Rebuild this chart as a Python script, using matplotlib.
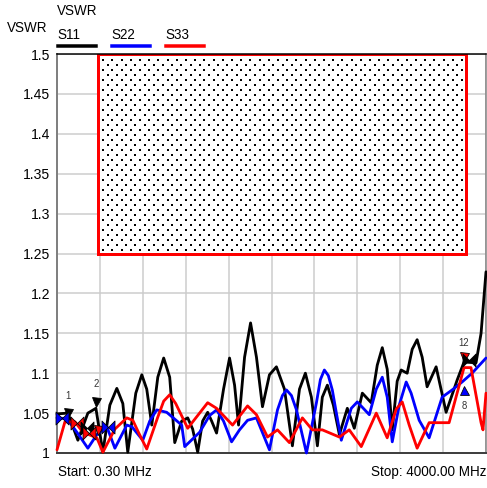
import matplotlib
matplotlib.use("Agg")
from matplotlib import pyplot as plt
from matplotlib.patches import Rectangle
from matplotlib.lines import Line2D
from matplotlib.path import Path
import numpy as np

plt.rcParams['font.family'] = ['Liberation Sans', 'DejaVu Sans']

# --- данные (МГц, КСВН) ---
f_start, f_stop = 0.3, 4000.0

s11_f = [0.3, 102, 195, 288, 363, 428, 493, 558, 614, 660,
         735, 791, 837, 884, 940, 995, 1051, 1098, 1163, 1219,
         1265, 1312, 1358, 1405, 1442, 1488, 1553, 1609, 1656, 1693,
         1749, 1805, 1860, 1916, 1981, 2046, 2121, 2195, 2261, 2316,
         2372, 2428, 2474, 2521, 2577, 2633, 2707, 2772, 2847, 2930,
         2986, 3033, 3079, 3126, 3172, 3209, 3265, 3312, 3358, 3405,
         3451, 3535, 3628, 3730, 3795, 3907, 3954, 4000]
s11_v = [1.049, 1.050, 1.016, 1.050, 1.056, 1.001, 1.060, 1.081, 1.062, 1.001,
         1.075, 1.098, 1.080, 1.035, 1.095, 1.119, 1.095, 1.013, 1.040, 1.044,
         1.030, 1.001, 1.040, 1.051, 1.040, 1.025, 1.080, 1.119, 1.085, 1.035,
         1.120, 1.163, 1.120, 1.058, 1.098, 1.108, 1.080, 1.009, 1.080, 1.100,
         1.070, 1.009, 1.070, 1.085, 1.060, 1.023, 1.056, 1.031, 1.075, 1.063,
         1.110, 1.132, 1.105, 1.029, 1.090, 1.104, 1.100, 1.130, 1.142, 1.120,
         1.083, 1.108, 1.051, 1.091, 1.114, 1.113, 1.150, 1.227]

s22_f = [0.3, 93, 186, 288, 372, 465, 540, 651, 698, 800,
         865, 930, 1023, 1163, 1191, 1330, 1423, 1488, 1553, 1628,
         1702, 1777, 1860, 1981, 2056, 2102, 2140, 2186, 2233, 2326,
         2419, 2456, 2493, 2530, 2567, 2605, 2651, 2744, 2800, 2912,
         2977, 3033, 3079, 3126, 3191, 3256, 3302, 3377, 3470, 3591,
         3684, 3777, 3870, 4000]
s22_v = [1.044, 1.043, 1.026, 1.006, 1.023, 1.033, 1.006, 1.035, 1.033, 1.016,
         1.040, 1.054, 1.051, 1.035, 1.008, 1.026, 1.047, 1.054, 1.040, 1.014,
         1.029, 1.041, 1.044, 1.004, 1.054, 1.072, 1.079, 1.072, 1.054, 1.000,
         1.063, 1.092, 1.104, 1.097, 1.079, 1.050, 1.016, 1.056, 1.064, 1.048,
         1.080, 1.095, 1.070, 1.014, 1.060, 1.089, 1.075, 1.041, 1.019, 1.070,
         1.079, 1.089, 1.100, 1.119]

s33_f = [0.3, 74, 168, 242, 372, 428, 540, 651, 707, 763,
         837, 940, 995, 1051, 1107, 1219, 1405, 1488, 1637, 1777,
         1860, 1963, 2056, 2167, 2288, 2381, 2474, 2633, 2725, 2837,
         2977, 3079, 3163, 3219, 3284, 3358, 3470, 3656, 3795, 3860,
         3954, 3972, 4000]
s33_v = [1.004, 1.039, 1.039, 1.026, 1.019, 1.001, 1.030, 1.044, 1.041, 1.025,
         1.005, 1.045, 1.065, 1.073, 1.062, 1.031, 1.063, 1.056, 1.035, 1.059,
         1.048, 1.020, 1.029, 1.013, 1.044, 1.029, 1.029, 1.020, 1.029, 1.008,
         1.050, 1.019, 1.055, 1.064, 1.035, 1.006, 1.038, 1.038, 1.107, 1.107,
         1.038, 1.029, 1.075]

# маска (предел)
mask_f = [380, 3810]
mask_v = [1.25, 1.5]

y_ticks = [1, 1.05, 1.1, 1.15, 1.2, 1.25, 1.3, 1.35, 1.4, 1.45, 1.5]
y_labels = ["1", "1.05", "1.1", "1.15", "1.2", "1.25", "1.3", "1.35", "1.4", "1.45", "1.5"]

# маркеры
down_f = [102, 363, 381, 3795]
down_v = [1.050, 1.064, 1.029, 1.120]
down_c = ["black", "black", "red", "red"]
bow_f = [47, 186, 280, 300, 474, 3840]
bow_v = [1.044, 1.038, 1.031, 1.025, 1.033, 1.116]
bow_c = ["blue", "red", "black", "red", "blue", "black"]
up_f = [3795]
up_v = [1.079]
mark_txt = [("1", 102, 1.072), ("2", 363, 1.086), ("12", 3795, 1.138), ("8", 3795, 1.059)]

W, H = 487, 488
fig = plt.figure(figsize=(W / 72, H / 72), dpi=72)
ax = fig.add_axes([57 / W, 1 - 453 / H, 429 / W, 399 / H])

ax.set_xlim(f_start, f_stop)
ax.set_ylim(1, 1.5)
ax.set_xticks(np.linspace(f_start, f_stop, 11))
ax.set_xticklabels([])
ax.set_yticks(y_ticks)
ax.set_yticklabels(y_labels, fontsize=14)
ax.tick_params(length=0, pad=7)
ax.grid(color="#cccccc", linewidth=1.5)
ax.set_axisbelow(True)

ax.spines['left'].set_color("#808080")
ax.spines['left'].set_linewidth(2)
ax.spines['right'].set_color("#808080")
ax.spines['right'].set_linewidth(1.5)
ax.spines['top'].set_color("black")
ax.spines['top'].set_linewidth(1.5)
ax.spines['bottom'].set_color("#404040")
ax.spines['bottom'].set_linewidth(2)

"""Маска: белый фон, точечный узор, красная рамка"""
ax.add_patch(Rectangle((mask_f[0], mask_v[0]), mask_f[1] - mask_f[0], mask_v[1] - mask_v[0],
                       facecolor="white", edgecolor="none", zorder=1))
dx = (mask_f[1] - mask_f[0]) / 40
dy = 0.00625
for i, row in enumerate(np.arange(mask_v[0] + 0.005, mask_v[1] - 0.002, dy)):
    xs = np.arange(mask_f[0] + dx * (0.6 + 0.5 * (i % 2)), mask_f[1] - dx * 0.3, dx)
    ax.scatter(xs, np.full(len(xs), row), s=3.2, marker="s", color="black",
               linewidths=0, zorder=1.5)
ax.add_patch(Rectangle((mask_f[0], mask_v[0]), mask_f[1] - mask_f[0], mask_v[1] - mask_v[0],
                       facecolor="none", edgecolor="red", linewidth=3, zorder=2))

"""Кривые"""
kw = dict(linewidth=2.8, solid_joinstyle="round", solid_capstyle="round", clip_on=False)
ax.plot(s11_f, s11_v, color="black", zorder=3, **kw)
ax.plot(s22_f, s22_v, color="blue", zorder=4, **kw)
ax.plot(s33_f, s33_v, color="red", zorder=5, **kw)

"""Маркеры"""
bowtie = Path([(-1, 1), (-1, -1), (0, 0), (-1, 1), (1, 1), (1, -1), (0, 0), (1, 1)],
              [Path.MOVETO, Path.LINETO, Path.LINETO, Path.CLOSEPOLY,
               Path.MOVETO, Path.LINETO, Path.LINETO, Path.CLOSEPOLY])
for f, v, c in zip(down_f, down_v, down_c):
    ax.plot(f, v, marker="v", markersize=9, color=c, markeredgecolor="black",
            markeredgewidth=0.8, zorder=6, clip_on=False)
for f, v, c in zip(bow_f, bow_v, bow_c):
    ax.plot(f, v, marker=bowtie, markersize=13, color=c, markeredgecolor="black",
            markeredgewidth=0.8, zorder=6, clip_on=False)
for f, v in zip(up_f, up_v):
    ax.plot(f, v, marker="^", markersize=9, color="blue", markeredgecolor="black",
            markeredgewidth=0.8, zorder=6, clip_on=False)
for t, f, v in mark_txt:
    ax.text(f, v, t, fontsize=9.5, ha="center", va="center", color="#333333", zorder=7)

"""Подписи и легенда"""
def fx(px):
    return px / W

def fy(py):
    return 1 - py / H

fig.text(fx(57), fy(11), "VSWR", fontsize=13.5, va="center", ha="left")
fig.text(fx(7), fy(28), "VSWR", fontsize=13.5, va="center", ha="left")
for name, col, x0 in [("S11", "black", 57), ("S22", "blue", 111), ("S33", "red", 165)]:
    fig.text(fx(x0), fy(35), name, fontsize=13.5, va="center", ha="left")
    fig.add_artist(Line2D([fx(x0 + 1), fx(x0 + 39)], [fy(46), fy(46)], color=col, linewidth=3.5))

fig.text(fx(58), fy(472), "Start: 0.30 MHz", fontsize=13.5, va="center", ha="left")
fig.text(fx(486), fy(472), "Stop: 4000.00 MHz", fontsize=13.5, va="center", ha="right")

fig.savefig("out.png", dpi=72)
